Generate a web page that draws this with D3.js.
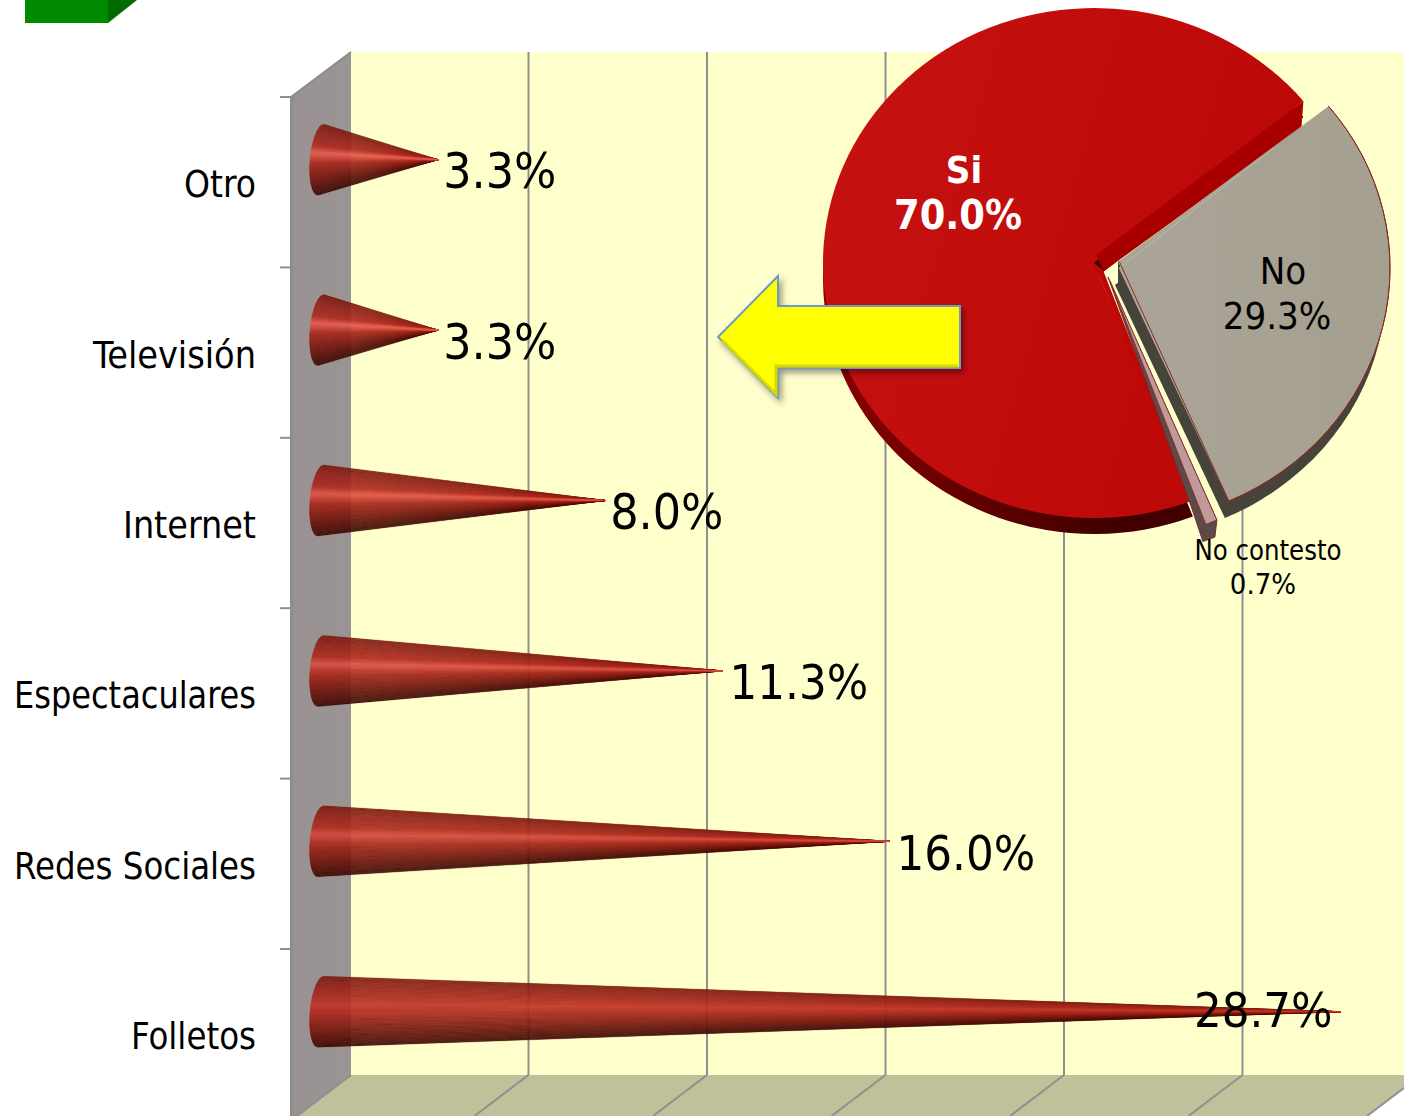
<!DOCTYPE html>
<html><head><meta charset="utf-8">
<script src="https://cdn.jsdelivr.net/npm/d3@7"></script>
<style>
html,body{margin:0;padding:0;background:#fff;overflow:hidden}
svg{display:block}
text{font-family:"DejaVu Sans Condensed","DejaVu Sans",sans-serif;font-stretch:condensed;fill:#000}
</style></head><body>
<svg id="c" width="1404" height="1116"></svg>
<script>
const categories=["Otro","Televisión","Internet","Espectaculares","Redes Sociales","Folletos"];
const values=[3.3,3.3,8.0,11.3,16.0,28.7];
const valueLabels=["3.3%","3.3%","8.0%","11.3%","16.0%","28.7%"];
const gridTicks=[5,10,15,20,25];
const pieNames=["No","No contesto","Si"];
const pieValues=[29.3,0.7,70.0];
const labelWidths=[72,163,133,242,242,125];

const svg=d3.select("#c"),defs=svg.append("defs");
const x=d3.scaleLinear().domain([0,30]).range([321,1387]);
const gridX=d3.scaleLinear().domain([0,30]).range([350,1421]);
const y=d3.scaleBand().domain(categories).range([97,1119.4]);

// green fragment top-left
svg.append("rect").attr("x",25).attr("y",0).attr("width",83).attr("height",23).attr("fill","#008a00");
svg.append("polygon").attr("points","108,0 137,0 108,23").attr("fill","#006c00");

// walls
const wg=defs.append("linearGradient").attr("id","wall");
wg.append("stop").attr("offset",0).attr("stop-color","#8f8b8b");
wg.append("stop").attr("offset",.06).attr("stop-color","#9a9292");
wg.append("stop").attr("offset",1).attr("stop-color","#9a9494");
svg.append("rect").attr("x",351).attr("y",52).attr("width",1053).attr("height",1023).attr("fill","#ffffcc");
svg.append("polygon").attr("points","351,1075 1404,1075 1404,1088 1368,1116 297,1116").attr("fill","#c0c09a");
svg.append("polygon").attr("points","291,97 351,52 351,1075 297,1116 291,1116").attr("fill","url(#wall)");
svg.append("path").attr("d","M291,1116V97L351,52").attr("fill","none").attr("stroke","#8c8c8c").attr("stroke-width",2);
svg.append("line").attr("x1",351).attr("y1",1075).attr("x2",297).attr("y2",1116).attr("stroke","#8f8f8f").attr("stroke-width",2);

// grid
gridTicks.concat([30]).forEach(t=>{
  const gx=gridX(t);
  svg.append("line").attr("x1",gx).attr("y1",1075).attr("x2",gx-54).attr("y2",1116).attr("stroke","#8f8f8f").attr("stroke-width",2);
  if(t<30) svg.append("line").attr("x1",gx).attr("y1",52).attr("x2",gx).attr("y2",1075).attr("stroke","#8f8f8f").attr("stroke-width",2);
});

// category ticks + labels
categories.forEach(c=>{
  svg.append("line").attr("x1",280).attr("x2",291).attr("y1",y(c)).attr("y2",y(c)).attr("stroke","#8f8f8f").attr("stroke-width",2);
});
const ax=svg.append("g").attr("transform","translate(256,0)").call(d3.axisLeft(y).tickSize(0).tickPadding(0));
ax.select(".domain").remove();
ax.selectAll("text").attr("font-size",38).attr("dy",15)
  .attr("textLength",(d,i)=>labelWidths[i]).attr("lengthAdjust","spacingAndGlyphs")
  .style("font-family",'"DejaVu Sans Condensed","DejaVu Sans",sans-serif').style("fill","#000");

// cones
const coneG=svg.append("g");
categories.forEach((c,i)=>{
  const v=values[i],tip=x(v),cy=y(c)+y.bandwidth()/2-22.5,cx=321;
  const hi=d3.scaleLinear().domain([3.3,28.7]).range(["#e85c4e","#c2352a"])(v);
  const col=d3.scaleLinear().domain([0,.12,.3,.4,.55,.8,1]).range(["#7d1c12","#94241a","#b02c20",hi,"#a8291d","#6e170e","#3e0c06"]);
  const n=90,g=coneG.append("g");
  const pt=t=>[cx-3*t-11*Math.sqrt(Math.max(0,1-t*t)),cy+35.5*t];
  // outermost strips first so the bright band stays on top at the tip
  d3.range(n).sort((a,b)=>Math.abs((b+.5)/n-.4)-Math.abs((a+.5)/n-.4)).forEach(k=>{
    const a=pt(-1+2*k/n),b=pt(-1+2*(k+1)/n),cl=col((k+.5)/n);
    g.append("path").attr("d",`M${a}L${b}L${tip},${cy}Z`).attr("fill",cl).attr("stroke",cl).attr("stroke-width",.3);
  });
});
categories.forEach((c,i)=>{
  const last=i===categories.length-1,s=valueLabels[i].length<5;
  svg.append("text").attr("x",last?1194:x(values[i])+(s?5:7)).attr("y",y(c)+y.bandwidth()/2+6+(last?-13:0))
    .attr("font-size",s?49.5:48.5).text(valueLabels[i]);
});

// pie
const rx=271,ry=255,cxP=1094,cyP=263,k=ry/rx;
const start=50.6*Math.PI/180;
const arcs=d3.pie().sort(null).startAngle(start).endAngle(start+2*Math.PI)(pieValues);
const arc=d3.arc().innerRadius(0).outerRadius(rx);
const P=(a,r=rx)=>[r*Math.sin(a),-r*k*Math.cos(a)];
const pieG=svg.append("g");
const place=(dx,dy)=>`translate(${cxP+dx},${cyP+dy}) scale(1,${k})`;
const poly=(pts,fill,stroke)=>pieG.append("polygon").attr("points",pts.join(" ")).attr("fill",fill).attr("stroke",stroke||"none").attr("stroke-width",1);

const sg=defs.append("linearGradient").attr("id","siw").attr("x1",0).attr("x2",1).attr("y1",0).attr("y2",0);
sg.append("stop").attr("offset",0).attr("stop-color","#8c0000");
sg.append("stop").attr("offset",.25).attr("stop-color","#6a0000");
sg.append("stop").attr("offset",.6).attr("stop-color","#400000");
sg.append("stop").attr("offset",1).attr("stop-color","#4a0000");
const st=defs.append("linearGradient").attr("id","sit").attr("x1",0).attr("x2",1).attr("y1",0).attr("y2",.3);
st.append("stop").attr("offset",0).attr("stop-color","#c71212");
st.append("stop").attr("offset",1).attr("stop-color","#bd0808");
const nt=defs.append("linearGradient").attr("id","not").attr("x1",0).attr("x2",1).attr("y1",0).attr("y2",0);
nt.append("stop").attr("offset",0).attr("stop-color","#aaa596");
nt.append("stop").attr("offset",1).attr("stop-color","#a59f90");

// Si
const si=arcs[2];
pieG.append("path").attr("d",arc(si)).attr("transform",place(0,16)).attr("fill","url(#siw)");
pieG.append("path").attr("d",arc(si)).attr("transform",place(0,0)).attr("fill","url(#sit)");
const se=P(si.endAngle),ss=P(si.startAngle);
poly([[cxP,cyP],[cxP+9,cyP+7],[cxP+ss[0]+1,cyP+ss[1]+2],[cxP+ss[0]-3,cyP+ss[1]-1]],"#bd0808");
poly([[cxP+2,cyP-8],[cxP+se[0],cyP+se[1]],[cxP+se[0]-2,cyP+se[1]+27],[cxP+10,cyP+8]],"#a80000");

// No contesto
const nc=arcs[1],ox=1107,oy=287,ax0=1110,ay0=281;
const n1=P(nc.startAngle),n2=P(nc.endAngle);
poly([[ax0-2,ay0-4],[ox+n2[0]-15,oy+n2[1]-19],[ox+n2[0]-3,oy+n2[1]+17],[ox+n1[0]-2,oy+n1[1]+17],[ox+n1[0],oy+n1[1]]],"#5c4a48","#7a2a2a");
poly([[ax0,ay0],[ox+n1[0],oy+n1[1]],[ox+n2[0],oy+n2[1]]],"#c09a9a","#8a3030");

// No
const no=arcs[0],nx=cxP+25,ny=cyP+5;
const no1=P(no.endAngle),no0=P(no.startAngle);
pieG.append("path").attr("d",arc(no)).attr("transform",place(21,22)).attr("fill","#45433a");
poly([[1118,261],[nx+no1[0]+1,ny+no1[1]],[nx+no1[0]-3,ny+no1[1]+17],[1118,282]],"#45433a");
const noTop=pieG.append("path").attr("d",arc(no)).attr("transform",place(25,5)).attr("fill","url(#not)");
// outer rim only carries the thin red edge
pieG.append("path").attr("d",d3.arc().innerRadius(rx).outerRadius(rx)(no)).attr("transform",place(25,5))
  .attr("fill","none").attr("stroke","#8a2a2a").attr("stroke-width",1).attr("vector-effect","non-scaling-stroke");
poly([[1119,261],[nx+no1[0],ny+no1[1]],[nx,ny],[nx+no0[0],ny+no0[1]]],"#aaa596");
pieG.append("line").attr("x1",1119).attr("y1",261).attr("x2",nx+no1[0]).attr("y2",ny+no1[1]).attr("stroke","#8a2a2a").attr("stroke-width",1);

// pie labels
const tl=(s,xx,yy,fs,extra)=>{const t=svg.append("text").attr("x",xx).attr("y",yy).attr("text-anchor","middle").attr("font-size",fs).text(s);if(extra)t.attr("font-weight","bold").style("fill","#fff");return t;};
tl(pieNames[2],964,183,38,true);
tl(d3.format(".1f")(pieValues[2])+"%",958,229,41,true);
tl(pieNames[0],1283,284,38);
tl(d3.format(".1f")(pieValues[0])+"%",1277,329,38);
tl(pieNames[1],1268,560,29).attr("textLength",147).attr("lengthAdjust","spacingAndGlyphs");
tl(d3.format(".1f")(pieValues[1])+"%",1263,594,29);

// arrow
const f=defs.append("filter").attr("id","sh").attr("x","-10%").attr("y","-10%").attr("width","125%").attr("height","130%");
f.append("feDropShadow").attr("dx",3).attr("dy",4).attr("stdDeviation",3).attr("flood-color","#000").attr("flood-opacity",.4);
svg.append("polygon").attr("points","718,337 778,276 778,306 960,306 960,368 778,368 778,398")
  .attr("fill","#ffff00").attr("stroke","#6a9cc4").attr("stroke-width",2).attr("filter","url(#sh)");
svg.append("path").attr("d","M722,340L776,394V366H958").attr("fill","none").attr("stroke","#d8d800").attr("stroke-width",3);
</script></body></html>
